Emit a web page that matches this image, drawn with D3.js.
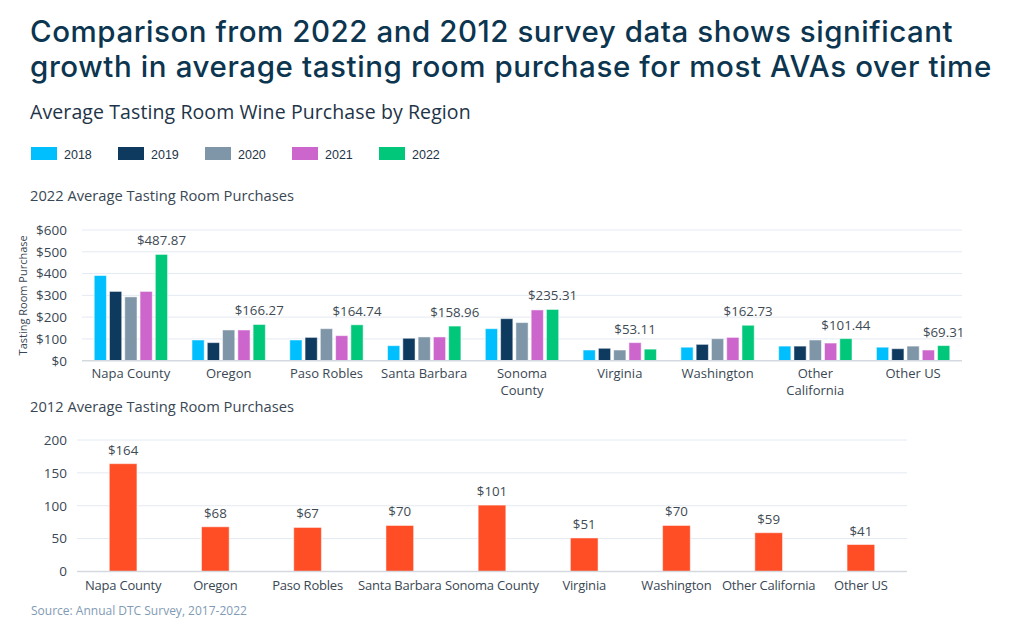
<!DOCTYPE html>
<html>
<head>
<meta charset="utf-8">
<script src="https://cdn.jsdelivr.net/npm/d3@7"></script>
<style>
  html, body { margin: 0; padding: 0; background: #ffffff; }
  svg { display: block; }
</style>
</head>
<body>
<svg id="chart" width="1009" height="638"></svg>
<script>
// ---------- data ----------
const regions = ["Napa County", "Oregon", "Paso Robles", "Santa Barbara", "Sonoma County", "Virginia", "Washington", "Other California", "Other US"];
const years = ["2018", "2019", "2020", "2021", "2022"];
const v2018 = [391, 95, 95, 69, 147, 49, 62, 67, 62];
const v2019 = [318, 83, 107, 103, 193, 57, 75, 67, 55];
const v2020 = [293, 141, 147, 109, 175, 49, 101, 95, 67];
const v2021 = [318, 141, 115, 109, 233, 83, 107, 81, 49];
const v2022 = [487.87, 166.27, 164.74, 158.96, 235.31, 53.11, 162.73, 101.44, 69.31];
const v2012 = [164, 68, 67, 70, 101, 51, 70, 59, 41];
const topTicks = [0, 100, 200, 300, 400, 500, 600];
const bottomTicks = [0, 50, 100, 150, 200];
const yearColors = ["#00bfff", "#0e3a60", "#7f95a8", "#cc66cc", "#00c77a"];
const color2012 = "#ff4d26";

const title1 = "Comparison from 2022 and 2012 survey data shows significant";
const title2 = "growth in average tasting room purchase for most AVAs over time";
const subtitle = "Average Tasting Room Wine Purchase by Region";
const topTitle = "2022 Average Tasting Room Purchases";
const bottomTitle = "2012 Average Tasting Room Purchases";
const yTitle = "Tasting Room Purchase";
const source = "Source: Annual DTC Survey, 2017-2022";

const series = [v2018, v2019, v2020, v2021, v2022];

// ---------- setup ----------
const svg = d3.select("#chart");
const titleFont = "Inter, 'Open Sans', sans-serif";
const bodyFont = "'Open Sans', 'Noto Sans', sans-serif";
const legendFont = "'Liberation Sans', Arial, sans-serif";
const textDark = "#3a4754";
const gridColor = "#e4eaf2";
const baseColor = "#d3d9df";

// Title
svg.append("text").attr("x", 30).attr("y", 42).text(title1)
  .attr("font-family", titleFont).attr("font-size", 29.5).attr("font-weight", 500)
  .attr("letter-spacing", 0.55).attr("fill", "#0c3550");
svg.append("text").attr("x", 30).attr("y", 77).text(title2)
  .attr("font-family", titleFont).attr("font-size", 29.5).attr("font-weight", 500)
  .attr("letter-spacing", 0.6).attr("fill", "#0c3550");

svg.append("text").attr("x", 30).attr("y", 119).text(subtitle)
  .attr("font-family", bodyFont).attr("font-size", 19.5).attr("letter-spacing", 0.1).attr("fill", "#1e3448");

// Legend
const legend = svg.append("g").attr("transform", "translate(31,147)");
years.forEach((y, i) => {
  const g = legend.append("g").attr("transform", `translate(${i * 87},0)`);
  g.append("rect").attr("width", 26).attr("height", 13).attr("fill", yearColors[i]);
  g.append("text").attr("x", 33).attr("y", 11.5).text(y)
    .attr("font-family", legendFont).attr("font-size", 12.5).attr("fill", "#1e3448");
});

svg.append("text").attr("x", 30).attr("y", 201).text(topTitle)
  .attr("font-family", bodyFont).attr("font-size", 14.7).attr("fill", "#3a4754");
svg.append("text").attr("x", 30).attr("y", 412).text(bottomTitle)
  .attr("font-family", bodyFont).attr("font-size", 14.7).attr("fill", "#3a4754");

// ---------- top chart ----------
const tx0 = 82, tx1 = 962, ty0 = 360.7, ty1 = 230;
const xTop = d3.scaleBand().domain(regions).range([tx0, tx1]).paddingInner(0.25).paddingOuter(0.125);
const xSub = d3.scaleBand().domain(years).range([0, xTop.bandwidth()]).paddingInner(0.2);
const yTop = d3.scaleLinear().domain([0, 600]).range([ty0, ty1]);

const gTop = svg.append("g");
gTop.selectAll("line.grid").data(topTicks.filter(d => d > 0)).join("line")
  .attr("x1", tx0).attr("x2", tx1)
  .attr("y1", d => yTop(d)).attr("y2", d => yTop(d))
  .attr("stroke", gridColor).attr("stroke-width", 1);

const yAxisTop = d3.axisLeft(yTop).tickValues(topTicks).tickSize(0).tickPadding(0)
  .tickFormat(d => "$" + d);
const yaT = svg.append("g").attr("transform", "translate(67,0)").call(yAxisTop);
yaT.select(".domain").remove();
yaT.selectAll("text").attr("font-family", bodyFont).attr("font-size", 13.5).attr("fill", textDark);

svg.append("text")
  .attr("transform", `translate(27,${(ty0 + ty1) / 2}) rotate(-90)`)
  .attr("text-anchor", "middle").text(yTitle)
  .attr("font-family", bodyFont).attr("font-size", 11).attr("fill", textDark);

// bars
const groups = gTop.selectAll("g.grp").data(regions).join("g")
  .attr("transform", d => `translate(${xTop(d)},0)`);
groups.each(function(r, ri) {
  const g = d3.select(this);
  years.forEach((y, yi) => {
    const v = series[yi][ri];
    g.append("rect")
      .attr("x", xSub(y)).attr("width", xSub.bandwidth())
      .attr("y", yTop(v)).attr("height", yTop(0) - yTop(v))
      .attr("fill", yearColors[yi])
      .attr("stroke", "#ffffff").attr("stroke-opacity", 0.5).attr("stroke-width", 1);
  });
  // label: 2022 value, placed over the tallest bar of the group
  const vals = series.map(s => s[ri]);
  const maxV = d3.max(vals);
  const maxIdx = vals.indexOf(maxV);
  g.append("text")
    .attr("x", xSub(years[maxIdx]) + xSub.bandwidth() / 2)
    .attr("y", yTop(maxV) - 9)
    .attr("text-anchor", "middle")
    .text("$" + d3.format(".2f")(v2022[ri]))
    .attr("font-family", bodyFont).attr("font-size", 13.3).attr("fill", "#404a54");
});

gTop.append("line").attr("x1", tx0).attr("x2", tx1).attr("y1", ty0).attr("y2", ty0)
  .attr("stroke", baseColor).attr("stroke-width", 1.5);

// category labels with wrapping
function wrapLabel(sel, width, lineH) {
  sel.each(function() {
    const t = d3.select(this);
    const words = t.text().split(/\s+/);
    const x = t.attr("x");
    t.text(null);
    let line = [];
    let tspan = t.append("tspan").attr("x", x).attr("dy", 0);
    words.forEach(w => {
      line.push(w);
      tspan.text(line.join(" "));
      if (tspan.node().getComputedTextLength() > width && line.length > 1) {
        line.pop();
        tspan.text(line.join(" "));
        line = [w];
        tspan = t.append("tspan").attr("x", x).attr("dy", lineH).text(w);
      }
    });
  });
}
gTop.selectAll("text.cat").data(regions).join("text")
  .attr("class", "cat")
  .attr("x", d => xTop(d) + xTop.bandwidth() / 2)
  .attr("y", 378)
  .attr("text-anchor", "middle")
  .text(d => d)
  .attr("font-family", bodyFont).attr("font-size", 13).attr("fill", textDark)
  .call(wrapLabel, 88, 17);

// ---------- bottom chart ----------
const bx0 = 77, bx1 = 907, by0 = 571.5, by1 = 440;
const xBot = d3.scaleBand().domain(regions).range([bx0, bx1]).paddingInner(0.7).paddingOuter(0.35);
const yBot = d3.scaleLinear().domain([0, 200]).range([by0, by1]);

const gBot = svg.append("g");
gBot.selectAll("line.grid").data(bottomTicks.filter(d => d > 0)).join("line")
  .attr("x1", bx0).attr("x2", bx1)
  .attr("y1", d => yBot(d)).attr("y2", d => yBot(d))
  .attr("stroke", gridColor).attr("stroke-width", 1);

const yAxisBot = d3.axisLeft(yBot).tickValues(bottomTicks).tickSize(0).tickPadding(0);
const yaB = svg.append("g").attr("transform", "translate(67,0)").call(yAxisBot);
yaB.select(".domain").remove();
yaB.selectAll("text").attr("font-family", bodyFont).attr("font-size", 13.5).attr("fill", textDark);

gBot.selectAll("rect.bar").data(v2012).join("rect")
  .attr("x", (d, i) => xBot(regions[i])).attr("width", xBot.bandwidth())
  .attr("y", d => yBot(d)).attr("height", d => yBot(0) - yBot(d))
  .attr("fill", color2012)
  .attr("stroke", "#ffffff").attr("stroke-opacity", 0.5).attr("stroke-width", 1);

gBot.selectAll("text.val").data(v2012).join("text")
  .attr("x", (d, i) => xBot(regions[i]) + xBot.bandwidth() / 2)
  .attr("y", d => yBot(d) - 9)
  .attr("text-anchor", "middle")
  .text(d => "$" + d)
  .attr("font-family", bodyFont).attr("font-size", 13.3).attr("fill", "#404a54");

gBot.append("line").attr("x1", bx0).attr("x2", bx1).attr("y1", by0).attr("y2", by0)
  .attr("stroke", baseColor).attr("stroke-width", 1.5);

gBot.selectAll("text.cat").data(regions).join("text")
  .attr("x", d => xBot(d) + xBot.bandwidth() / 2)
  .attr("y", 590)
  .attr("text-anchor", "middle")
  .text(d => d)
  .attr("font-family", bodyFont).attr("font-size", 13).attr("letter-spacing", -0.2).attr("fill", textDark);

svg.append("text").attr("x", 31).attr("y", 615).text(source)
  .attr("font-family", bodyFont).attr("font-size", 12).attr("fill", "#7f9bb5");
</script>
</body>
</html>
